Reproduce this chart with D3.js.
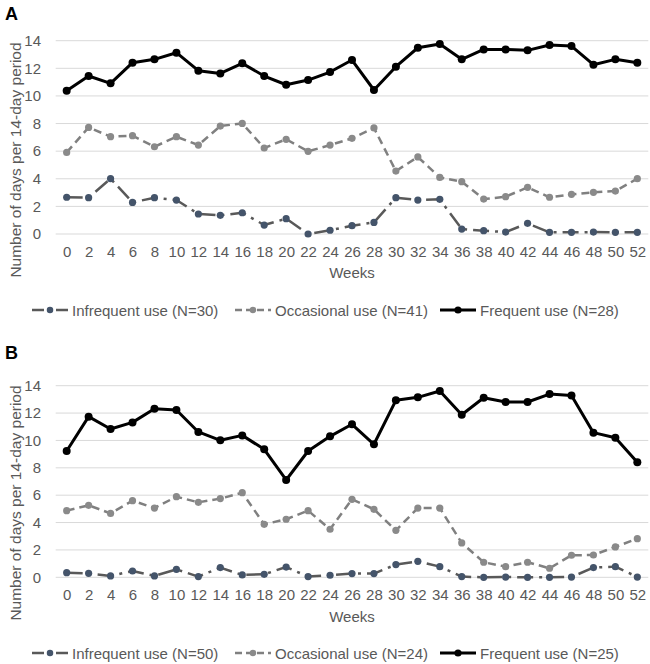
<!DOCTYPE html>
<html><head><meta charset="utf-8">
<script src="https://cdn.jsdelivr.net/npm/d3@7"></script>
<style>body{margin:0;background:#fff}svg{display:block}text{font-family:"Liberation Sans",Arial,sans-serif}</style>
</head><body>
<svg id="chart" width="650" height="664"></svg>
<script>
const weeks = [0,2,4,6,8,10,12,14,16,18,20,22,24,26,28,30,32,34,36,38,40,42,44,46,48,50,52];
const yTicks = [0,2,4,6,8,10,12,14];

const aInfrequent = [2.66,2.63,4.01,2.29,2.63,2.46,1.45,1.35,1.54,0.65,1.11,0.0,0.27,0.6,0.84,2.63,2.46,2.51,0.36,0.24,0.14,0.77,0.12,0.12,0.14,0.12,0.12];
const aOccasional = [5.91,7.72,7.05,7.12,6.32,7.05,6.44,7.82,8.01,6.23,6.86,5.99,6.44,6.93,7.68,4.56,5.58,4.10,3.79,2.53,2.70,3.38,2.66,2.87,3.02,3.11,4.01];
const aFrequent = [10.38,11.44,10.91,12.41,12.65,13.13,11.83,11.63,12.36,11.44,10.81,11.15,11.73,12.6,10.43,12.12,13.49,13.76,12.65,13.37,13.37,13.3,13.69,13.61,12.26,12.65,12.41];

const bInfrequent = [0.34,0.29,0.1,0.46,0.1,0.58,0.05,0.71,0.17,0.22,0.75,0.05,0.15,0.27,0.27,0.93,1.17,0.78,0.05,0.0,0.02,0.0,0.0,0.02,0.71,0.78,0.02];
const bOccasional = [4.87,5.26,4.67,5.6,5.06,5.89,5.48,5.75,6.18,3.87,4.24,4.87,3.51,5.70,4.97,3.43,5.06,5.06,2.51,1.10,0.78,1.10,0.66,1.61,1.63,2.22,2.82];
const bFrequent = [9.23,11.74,10.84,11.32,12.32,12.22,10.62,10.01,10.37,9.35,7.11,9.23,10.3,11.18,9.72,12.93,13.15,13.61,11.88,13.12,12.81,12.81,13.39,13.29,10.57,10.2,8.4];

const aLegend = ["Infrequent use (N=30)","Occasional use (N=41)","Frequent use (N=28)"];
const bLegend = ["Infrequent use (N=50)","Occasional use (N=24)","Frequent use (N=25)"];
const panelLabels = ["A","B"];
const xTitle = "Weeks";
const yTitle = "Number of days per 14-day period";

const styles = [
  {line:"#595959", marker:"#44546A", width:2.5, dash:"16,6,3,6", r:3.6},
  {line:"#808080", marker:"#8a8a8a", width:2.5, dash:"8,5", r:3.6},
  {line:"#000000", marker:"#000000", width:3, dash:null, r:4}
];

const svg = d3.select("#chart");
const x = d3.scalePoint().domain(weeks).range([55.7, 648.3]).padding(0.5);

function panel(cfg){
  const g = svg.append("g");
  const y = d3.scaleLinear().domain([0,14]).range([cfg.y0, cfg.y14]);
  // gridlines
  g.append("g").selectAll("line").data(yTicks).join("line")
    .attr("x1",55.7).attr("x2",648.3)
    .attr("y1",d=>y(d)).attr("y2",d=>y(d))
    .attr("stroke","#d9d9d9").attr("stroke-width",1);
  // y axis labels
  const ya = g.append("g").attr("transform","translate(47,0)")
    .call(d3.axisLeft(y).tickValues(yTicks).tickSize(0).tickPadding(6));
  ya.select(".domain").remove();
  ya.selectAll("text").attr("font-size",15).attr("fill","#595959").attr("font-family","Liberation Sans, Arial, sans-serif");
  // x axis labels
  const xa = g.append("g").attr("transform",`translate(0,${cfg.y0})`)
    .call(d3.axisBottom(x).tickSize(0).tickPadding(12));
  xa.select(".domain").remove();
  xa.selectAll("text").attr("font-size",15).attr("fill","#595959").attr("font-family","Liberation Sans, Arial, sans-serif");
  // axis titles
  g.append("text").attr("x",(x(0)+x(52))/2).attr("y",cfg.weeksY).attr("text-anchor","middle")
    .attr("font-size",15).attr("fill","#595959").text(xTitle);
  g.append("text").attr("transform",`translate(21,${cfg.titleY}) rotate(-90)`).attr("text-anchor","middle")
    .attr("font-size",15.5).attr("fill","#595959").text(yTitle);
  g.append("text").attr("x",5).attr("y",cfg.labelY).attr("font-size",18).attr("font-weight","bold")
    .attr("fill","#000").text(cfg.label);
  // series
  cfg.series.forEach((vals,i)=>{
    const s = styles[i];
    const line = d3.line().x((d,j)=>x(weeks[j])).y(d=>y(d));
    g.append("path").datum(vals).attr("d",line).attr("fill","none")
      .attr("stroke",s.line).attr("stroke-width",s.width).attr("stroke-dasharray",s.dash)
      .attr("stroke-linejoin","round");
    g.append("g").selectAll("circle").data(vals).join("circle")
      .attr("cx",(d,j)=>x(weeks[j])).attr("cy",d=>y(d)).attr("r",s.r).attr("fill",s.marker);
  });
  // legend
  const lx = [32, 235, 440];
  cfg.legend.forEach((t,i)=>{
    const s = styles[i];
    const lg = g.append("g").attr("transform",`translate(${lx[i]},${cfg.legendY})`);
    lg.append("line").attr("x1",0).attr("x2",36).attr("y1",0).attr("y2",0)
      .attr("stroke",s.line).attr("stroke-width",s.width).attr("stroke-dasharray",s.dash ? (i===0?"12,5,2,5":"7,4"):null);
    lg.append("circle").attr("cx",18).attr("cy",0).attr("r",s.r*0.9).attr("fill",s.marker);
    lg.append("text").attr("x",40).attr("y",5.5).attr("font-size",15).attr("fill","#595959").text(t);
  });
}

panel({y0:234, y14:40.7, weeksY:278, titleY:160, labelY:20, label:panelLabels[0], legendY:310,
  series:[aInfrequent,aOccasional,aFrequent], legend:aLegend});
panel({y0:577.3, y14:385.7, weeksY:622, titleY:503, labelY:359, label:panelLabels[1], legendY:653,
  series:[bInfrequent,bOccasional,bFrequent], legend:bLegend});
</script>
</body></html>
